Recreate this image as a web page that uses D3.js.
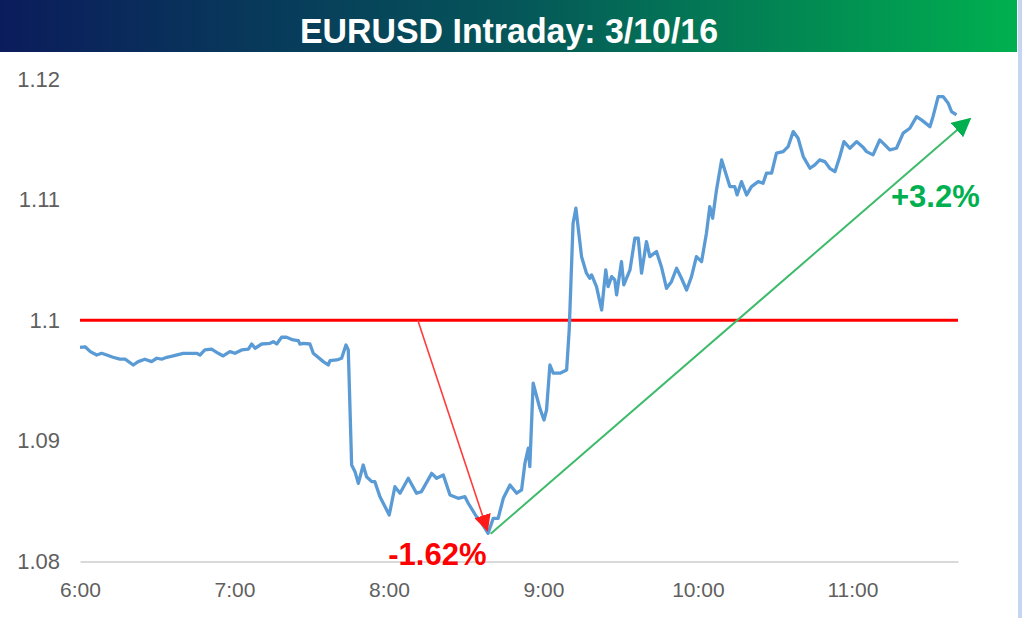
<!DOCTYPE html>
<html>
<head>
<meta charset="utf-8">
<script src="https://cdn.jsdelivr.net/npm/d3@7"></script>
<style>
  body { margin: 0; background: #fff; }
  svg { display: block; }
</style>
</head>
<body>
<div id="chart"></div>
<script>
// minutes after 6:00 and EURUSD price
var minutes = [0, 2, 4, 6.5, 8.4, 10.4, 12.8, 15.5, 17.5, 20.7, 22.6, 25.2, 27.8, 29.8, 31.7, 33.7, 36.2, 40.1, 45.3, 46.6,
  48.5, 51.1, 53.7, 55.6, 58.2, 60.2, 62.8, 65.4, 66.7, 68, 70.6, 73.8, 75.1, 76.4, 78.3, 80.2, 82.8, 84.8, 85.4, 86.7,
  89.3, 90.6, 94.5, 96.4, 97.1, 99.7, 101.6, 103.3, 104.2, 105.5, 106.8, 108.1, 110, 111.3, 113.3, 114.5, 116.5, 120.1, 122.3, 124.3,
  127.5, 130.7, 132.6, 136.6, 138.5, 141.1, 143.7, 146.9, 149.5, 150.8, 154, 155.3, 158.5, 160.5, 162.4, 164.4, 167, 169.6, 171.5, 172.8,
  174.1, 174.7, 176, 178.6, 180.2, 181.2, 182.5, 183.8, 186.4, 189, 190, 191.5, 192.6, 194.8, 196.7, 198, 198.7, 200.6, 202.6, 204.2,
  205.1, 206.5, 207.7, 208.4, 210.3, 211.2, 213.6, 215.5, 216.8, 218.1, 220, 221.3, 223.9, 225.8, 227.8, 229.7, 231.7, 233.6, 235.6, 237.5,
  239.4, 241.4, 243.3, 244.6, 245.7, 247.2, 249.2, 252.4, 254.3, 255.2, 256.9, 258.9, 260.8, 263.4, 265.3, 266.6, 268.6, 270.5, 273.1, 275,
  277, 278.9, 280.9, 283.5, 285.4, 287.3, 289.3, 291.2, 293.2, 295.1, 296.7, 299, 301.6, 303.9, 305.5, 308, 310.6, 312.6, 314.5, 317.1,
  319.7, 322.3, 324.9, 326.8, 330.1, 331.3, 333.3, 335.2, 337.2, 338.5, 340.4];
var prices = [1.09776, 1.0978, 1.0974, 1.09712, 1.09726, 1.09712, 1.09693, 1.09677, 1.09677, 1.09629, 1.09657, 1.09677, 1.09657, 1.09685, 1.09677, 1.09693, 1.09704, 1.09726, 1.09726, 1.09712,
  1.09754, 1.0976, 1.09726, 1.09704, 1.0974, 1.09726, 1.09754, 1.0976, 1.09803, 1.09768, 1.09803, 1.09809, 1.09823, 1.09803, 1.09859, 1.09859, 1.09837, 1.09831, 1.09803, 1.09809,
  1.09803, 1.09726, 1.09657, 1.09629, 1.09665, 1.09671, 1.09685, 1.09795, 1.09754, 1.088, 1.08745, 1.08648, 1.088, 1.08703, 1.08662, 1.08662, 1.08537, 1.08386, 1.0862, 1.08566,
  1.0869, 1.08566, 1.08579, 1.08731, 1.0869, 1.08717, 1.08551, 1.08524, 1.08537, 1.08483, 1.08371, 1.08344, 1.08234, 1.08358, 1.08358, 1.08524, 1.08634, 1.08566, 1.08593, 1.08814,
  1.08939, 1.08786, 1.09478, 1.0927, 1.09173, 1.09256, 1.09629, 1.09561, 1.09561, 1.09588, 1.0992, 1.10804, 1.10929, 1.10527, 1.1039, 1.10348, 1.10376, 1.10279, 1.10085, 1.10417,
  1.10279, 1.10362, 1.10334, 1.1021, 1.10486, 1.10293, 1.10417, 1.1068, 1.1068, 1.1039, 1.10652, 1.10527, 1.10569, 1.10444, 1.10265, 1.1032, 1.10431, 1.10348, 1.10251, 1.10362,
  1.10527, 1.10486, 1.10721, 1.10942, 1.10846, 1.1108, 1.11329, 1.11108, 1.11108, 1.11039, 1.11149, 1.11039, 1.11108, 1.11149, 1.11136, 1.11219, 1.11219, 1.11385, 1.11398, 1.11439,
  1.11564, 1.11509, 1.11357, 1.1126, 1.11288, 1.11329, 1.11315, 1.1126, 1.11232, 1.11357, 1.11481, 1.11426, 1.11481, 1.11439, 1.11398, 1.11371, 1.11495, 1.11454, 1.11412, 1.11426,
  1.11551, 1.11592, 1.11688, 1.11661, 1.11605, 1.11688, 1.11854, 1.11854, 1.11799, 1.1173, 1.11702];

var xTickLabels = ["6:00", "7:00", "8:00", "9:00", "10:00", "11:00"];
var yTicks = [1.08, 1.09, 1.1, 1.11, 1.12];
var refLevel = 1.1;

// annotation arrows in data units: [minutes, price]
var dropArrow = [[131.2, 1.1], [158.2, 1.0826]];
var riseArrow = [[159.5, 1.0823], [345.6, 1.11669]];
var dropLabel = { text: "-1.62%", at: [138.8, 1.0797] };
var riseLabel = { text: "+3.2%", at: [332.2, 1.10935] };

function main() {
    var width = 1022, height = 618;

    var svg = d3.select("#chart")
        .append("svg")
        .attr("width", width)
        .attr("height", height);

    var defs = svg.append("defs");

    // title bar gradient
    var grad = defs.append("linearGradient").attr("id", "titleGrad");
    grad.append("stop").attr("offset", "0%").attr("stop-color", "#0b1c5c");
    grad.append("stop").attr("offset", "50%").attr("stop-color", "#055559");
    grad.append("stop").attr("offset", "100%").attr("stop-color", "#00b04f");

    // arrow heads
    function marker(id, color, size) {
        defs.append("marker")
            .attr("id", id)
            .attr("viewBox", "0 0 10 10")
            .attr("refX", 9).attr("refY", 5)
            .attr("markerWidth", size).attr("markerHeight", size)
            .attr("markerUnits", "userSpaceOnUse")
            .attr("orient", "auto")
            .append("path")
            .attr("d", "M0,0 L10,5 L0,10 z")
            .attr("fill", color);
    }
    marker("headRed", "#ff1a1a", 17);
    marker("headGreen", "#00b050", 19);

    svg.append("rect")
        .attr("x", 0).attr("y", 0)
        .attr("width", 1017).attr("height", 52)
        .attr("fill", "url(#titleGrad)");

    svg.append("text")
        .attr("x", 509).attr("y", 43)
        .attr("text-anchor", "middle")
        .attr("font-family", "Liberation Sans, Arial, sans-serif")
        .attr("font-weight", "bold")
        .attr("font-size", "35px")
        .attr("textLength", 418)
        .attr("lengthAdjust", "spacingAndGlyphs")
        .attr("fill", "#fff")
        .text("EURUSD Intraday: 3/10/16");

    // thin border at the right edge
    svg.append("rect")
        .attr("x", 1018).attr("y", 0)
        .attr("width", 4).attr("height", height)
        .attr("fill", "#c8d5f2");

    // scales
    var x = d3.scaleLinear().domain([0, 341]).range([80, 958]);
    var y = d3.scaleLinear().domain([1.08, 1.12]).range([561.5, 79]);

    // y labels
    var yAxis = svg.append("g")
        .attr("transform", "translate(60,0)")
        .call(d3.axisLeft(y).tickValues(yTicks).tickSize(0).tickPadding(0)
            .tickFormat(function (d) { return d3.format("")(+d.toFixed(2)); }));
    yAxis.select(".domain").remove();
    yAxis.selectAll("text")
        .attr("font-family", "Liberation Sans, Arial, sans-serif")
        .attr("font-size", "22px")
        .attr("fill", "#5f5f5f");

    // x axis
    var xAxis = svg.append("g")
        .attr("transform", "translate(0," + y(1.08) + ")")
        .call(d3.axisBottom(x).tickValues(d3.range(xTickLabels.length).map(function (i) { return i * 60; }))
            .tickSize(0).tickPadding(21)
            .tickFormat(function (d, i) { return xTickLabels[i]; }));
    xAxis.select(".domain").attr("stroke", "#d9d9d9").attr("stroke-width", 2);
    xAxis.selectAll("text")
        .attr("font-family", "Liberation Sans, Arial, sans-serif")
        .attr("font-size", "21px")
        .attr("fill", "#5f5f5f");

    // reference level
    svg.append("line")
        .attr("x1", x(0)).attr("x2", x(341))
        .attr("y1", y(refLevel)).attr("y2", y(refLevel))
        .attr("stroke", "#ff0000")
        .attr("stroke-width", 3);

    // price line
    var series = minutes.map(function (m, i) { return [m, prices[i]]; });
    svg.append("path")
        .datum(series)
        .attr("fill", "none")
        .attr("stroke", "#5b9bd5")
        .attr("stroke-width", 3.3)
        .attr("stroke-linejoin", "round")
        .attr("d", d3.line().x(function (d) { return x(d[0]); }).y(function (d) { return y(d[1]); }));

    // arrows
    function arrow(pts, color, w, head) {
        svg.append("line")
            .attr("x1", x(pts[0][0])).attr("y1", y(pts[0][1]))
            .attr("x2", x(pts[1][0])).attr("y2", y(pts[1][1]))
            .attr("stroke", color)
            .attr("stroke-width", w)
            .attr("marker-end", "url(#" + head + ")");
    }
    arrow(dropArrow, "#ff3b3b", 1.6, "headRed");
    arrow(riseArrow, "#3dbb6b", 2, "headGreen");

    // labels
    function label(l, color) {
        svg.append("text")
            .attr("x", x(l.at[0])).attr("y", y(l.at[1]))
            .attr("text-anchor", "middle")
            .attr("font-family", "Liberation Sans, Arial, sans-serif")
            .attr("font-weight", "bold")
            .attr("font-size", "31px")
            .attr("fill", color)
            .text(l.text);
    }
    label(dropLabel, "#ff0000");
    label(riseLabel, "#00b050");
}
window.addEventListener('load', main);
</script>
</body>
</html>
